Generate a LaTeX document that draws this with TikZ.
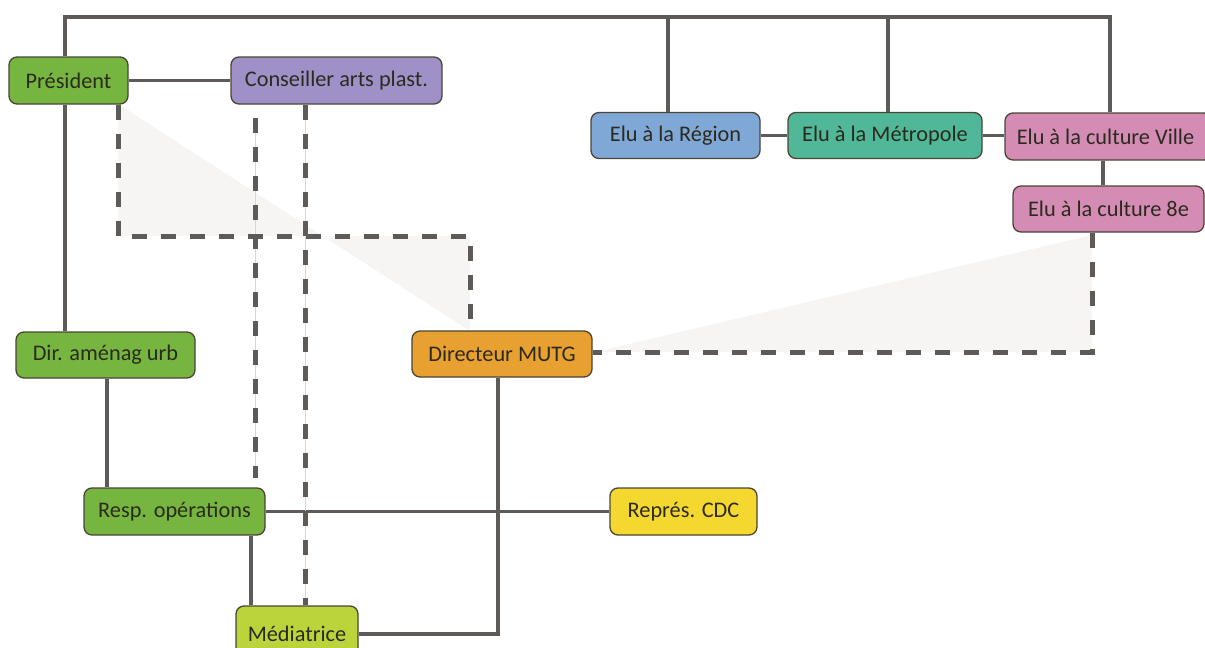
\documentclass[tikz,border=0pt]{standalone}
\usepackage{fontspec}
\setmainfont{Carlito}
\definecolor{cgreen}{HTML}{76B640}
\definecolor{clime}{HTML}{BCD43C}
\definecolor{corange}{HTML}{E8A030}
\definecolor{cpurple}{HTML}{A090C8}
\definecolor{cblue}{HTML}{80A8D6}
\definecolor{cteal}{HTML}{50B898}
\definecolor{cpink}{HTML}{D48CB4}
\definecolor{cyellow}{HTML}{F4D830}
\definecolor{cline}{HTML}{5E5A58}
\definecolor{cborder}{HTML}{4A4535}
\definecolor{ctext}{HTML}{2B2A1E}
\definecolor{cshade}{HTML}{F6F5F3}
\definecolor{cthin}{HTML}{D8D6D4}
\tikzset{
  box/.style={draw=cborder, line width=1.3pt, rounded corners=8pt, inner sep=0pt,
    text=ctext, font=\fontsize{22.3}{25}\selectfont, minimum height=47pt},
  conn/.style={draw=cline, line width=3.5pt},
  dconn/.style={draw=cline, line width=5pt, dash pattern=on 15pt off 14pt},
  thinln/.style={draw=cthin, line width=0.8pt},
}
\begin{document}
\begin{tikzpicture}[x=1pt,y=-1pt]
\useasboundingbox (0,0) rectangle (1205,648);
% shading
\fill[cshade] (118,104) -- (118,236) -- (470,236) -- (470,331) -- cycle;
\fill[cshade] (595,352) -- (1092,235) -- (1092,352) -- cycle;
% nodes
\node[box, fill=cgreen, minimum width=119pt] (pres) at (68.5,80.5) {Président};
\node[box, fill=cpurple, minimum width=211pt] (cons) at (336.5,80.5) {Conseiller arts plast.};
\node[box, fill=cblue, minimum width=169pt, minimum height=46pt] (reg) at (675.5,135.5) {Elu à la Région};
\node[box, fill=cteal, minimum width=194pt, minimum height=46pt] (metro) at (885,135.5) {Elu à la Métropole};
\node[box, fill=cpink, minimum width=207pt] (ville) at (1108.5,136.5) {\hspace*{-6pt}Elu à la culture Ville};
\node[box, fill=cpink, minimum width=191pt, minimum height=46pt] (huit) at (1108.5,209) {Elu à la culture 8e};
\node[box, fill=cgreen, minimum width=179pt, minimum height=46pt] (dir) at (105.5,355) {Dir. aménag urb};
\node[box, fill=corange, minimum width=180pt, minimum height=46pt] (mutg) at (502,354) {Directeur MUTG};
\node[box, fill=cgreen, minimum width=181pt] (resp) at (174.5,511.5) {Resp. opérations};
\node[box, fill=cyellow, minimum width=147pt] (cdc) at (683.5,511.5) {Représ. CDC};
\node[box, fill=clime, minimum width=122pt, minimum height=56pt] (med) at (297,634) {Médiatrice};
% helper coordinates
\coordinate (t1) at (65,17);
\coordinate (t2) at (668,17);
\coordinate (t3) at (888,17);
\coordinate (t4) at (1110,17);
\coordinate (v1) at (107,0);
\coordinate (v2) at (251,0);
\coordinate (v3) at (498,0);
\coordinate (v4) at (1103,0);
\coordinate (d1) at (118,236);
\coordinate (d2) at (470,236);
\coordinate (d3) at (1092,352);
\coordinate (ca) at (255,118);
\coordinate (cb) at (255,478);
\coordinate (v5) at (305,0);
% solid connectors
\draw[conn] (pres.north -| t1) -- (t1) -- (t4) -- (t4 |- ville.north);
\draw[conn] (t2) -- (t2 |- reg.north);
\draw[conn] (t3) -- (t3 |- metro.north);
\draw[conn] (pres) -- (cons);
\draw[conn] (reg) -- (metro);
\draw[conn] (metro.east) -- (ville.west |- metro.east);
\draw[conn] (ville.south -| v4) -- (huit.north -| v4);
\draw[conn] (pres.south -| t1) -- (dir.north -| t1);
\draw[conn] (dir.south -| v1) -- (resp.north -| v1);
\draw[conn] (resp) -- (cdc);
\draw[conn] (resp.south -| v2) -- (med.north -| v2);
\draw[conn] (med.east) -| (mutg.south -| v3);
% dashed connectors
\draw[thinln] (ca) -- (cb);
\draw[dconn] (ca) -- (cb);
\draw[thinln] (cons.south -| v5) -- (med.north -| v5);
\draw[dconn] (cons.south -| v5) -- (med.north -| v5);
\draw[dconn] (pres.south -| d1) -- (d1) -- (d2) -- (mutg.north -| d2);
\draw[dconn] (huit.south -| d3) -- (d3) -- (mutg.east |- d3);
\end{tikzpicture}
\end{document}
